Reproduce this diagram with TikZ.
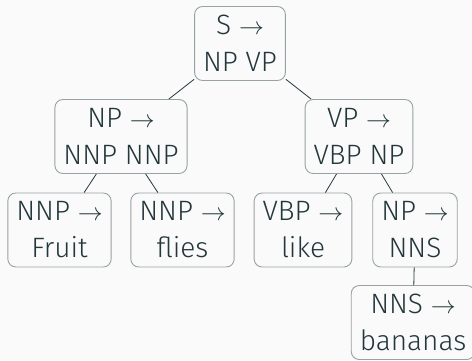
\documentclass[tikz,border=0pt]{standalone}
\usepackage{fontspec}
\setmainfont{Fira Sans Light}
\definecolor{ink}{HTML}{23373B}
\definecolor{frame}{HTML}{98A2A2}
\definecolor{paper}{HTML}{FAFAFA}
\begin{document}
\begin{tikzpicture}[x=1pt,y=-1pt,
  rule/.style={draw=frame,line width=0.9pt,rounded corners=8pt,align=center,
    text=ink,inner xsep=8.5pt,inner ysep=0pt,minimum height=74pt,
    font=\fontsize{28}{37}\selectfont},
  edge/.style={draw=ink,line width=0.8pt}]
\fill[paper] (0,0) rectangle (472,360);
\useasboundingbox (0,0) rectangle (472,360);
\node[rule] (s)    at (240,43.5)  {S $\rightarrow$\\NP VP};
\node[rule] (np)   at (121,136.5) {NP $\rightarrow$\\NNP NNP};
\node[rule] (vp)   at (359,136.5) {VP $\rightarrow$\\VBP NP};
\node[rule] (nnp1) at (59.5,230)  {NNP $\rightarrow$\\Fruit};
\node[rule] (nnp2) at (182.5,230) {NNP $\rightarrow$\\flies};
\node[rule] (vbp)  at (303,230)   {VBP $\rightarrow$\\like};
\node[rule] (np2)  at (415,230)   {NP $\rightarrow$\\NNS};
\node[rule] (nns)  at (413,322.5) {NNS $\rightarrow$\\bananas};
\draw[edge] (s) -- (np);
\draw[edge] (s) -- (vp);
\draw[edge] (np) -- (nnp1);
\draw[edge] (np) -- (nnp2);
\draw[edge] (vp) -- (vbp);
\draw[edge] (vp) -- (np2);
\draw[edge] (np2) -- (nns);
\end{tikzpicture}
\end{document}
